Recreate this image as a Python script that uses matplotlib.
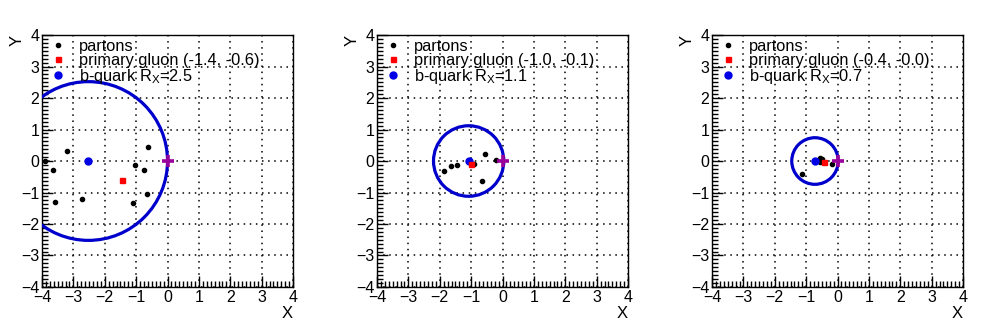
import numpy as np
import matplotlib
matplotlib.use("Agg")
import matplotlib.pyplot as plt
from matplotlib.patches import Circle
from matplotlib.ticker import MultipleLocator

plt.rcParams['font.family'] = ['Liberation Sans', 'DejaVu Sans']
plt.rcParams['mathtext.fontset'] = 'custom'
plt.rcParams['mathtext.rm'] = 'Liberation Sans'
plt.rcParams['mathtext.it'] = 'Liberation Sans'

# partons per panel
partons_x = [
    [-3.89, -3.65, -3.2, -0.63, -1.04, -0.75, -3.6, -2.74, -1.09, -0.66],
    [-1.88, -1.63, -1.46, -0.57, -0.22, -0.66, -0.91],
    [-1.13, -0.56, -0.5, -0.56, -0.18],
]
partons_y = [
    [0.0, -0.28, 0.33, 0.46, -0.13, -0.28, -1.3, -1.2, -1.32, -1.06],
    [-0.32, -0.17, -0.12, 0.23, 0.04, -0.65, -0.08],
    [-0.42, 0.08, 0.07, -0.03, -0.1],
]
# primary gluon
gluon_x = [-1.44, -1.02, -0.42]
gluon_y = [-0.61, -0.08, -0.02]
# b-quark and its radius
bquark_x = [-2.52, -1.08, -0.72]
bquark_y = [0.0, 0.0, 0.0]
radius = [2.52, 1.12, 0.74]

fig = plt.figure(figsize=(10.07, 3.23), dpi=100)
lefts = [0.0417, 0.3744, 0.7071]

for i in range(3):
    ax = fig.add_axes([lefts[i], 0.1115, 0.2493, 0.780])
    ax.set_xlim(-4, 4)
    ax.set_ylim(-4, 4)
    ax.grid(True, color='black', linestyle=(0, (1, 3)), linewidth=1.1)
    ax.set_axisbelow(True)

    p1, = ax.plot(partons_x[i], partons_y[i], 'o', color='black', markersize=3.0, linestyle='none', zorder=3)
    circ = Circle((bquark_x[i], bquark_y[i]), radius[i], fill=False, edgecolor='#0000cc', linewidth=2.3, zorder=4)
    ax.add_patch(circ)
    p3, = ax.plot([bquark_x[i]], [bquark_y[i]], 'o', color='#0000e6', markersize=5.0, linestyle='none', zorder=5)
    p2, = ax.plot([gluon_x[i]], [gluon_y[i]], 's', color='red', markersize=3.6, linestyle='none', zorder=5)
    ax.plot([0], [0], '+', color='#9a009a', markersize=9, markeredgewidth=2.6, zorder=6)

    lab1 = "partons"
    lab2 = "primary gluon (%.1f, %.1f)" % (gluon_x[i], gluon_y[i])
    lab3 = "b-quark R$_{\\mathrm{X}}$=%.1f" % radius[i]
    leg = ax.legend([p1, p2, p3], [lab1, lab2, lab3], loc='upper left', bbox_to_anchor=(0.0, 1.01),
                    frameon=False, fontsize=11.8, handlelength=1.15, handletextpad=0.72,
                    labelspacing=-0.06, borderaxespad=0, markerscale=1.0)
    leg.set_zorder(10)

    ax.xaxis.set_major_locator(MultipleLocator(1))
    ax.yaxis.set_major_locator(MultipleLocator(1))
    ax.xaxis.set_minor_locator(MultipleLocator(0.125))
    ax.yaxis.set_minor_locator(MultipleLocator(0.125))
    ax.tick_params(which='both', direction='in', top=False, right=False, labelsize=11.5, width=1)
    ax.tick_params(which='major', length=8, pad=2)
    ax.tick_params(which='minor', length=4)
    for s in ax.spines.values():
        s.set_linewidth(1)

    ax.set_xlabel("X", fontsize=12, loc='right', labelpad=1)
    ax.set_ylabel("Y", fontsize=12, loc='top', labelpad=-3)

fig.savefig("out.png", dpi=100)
